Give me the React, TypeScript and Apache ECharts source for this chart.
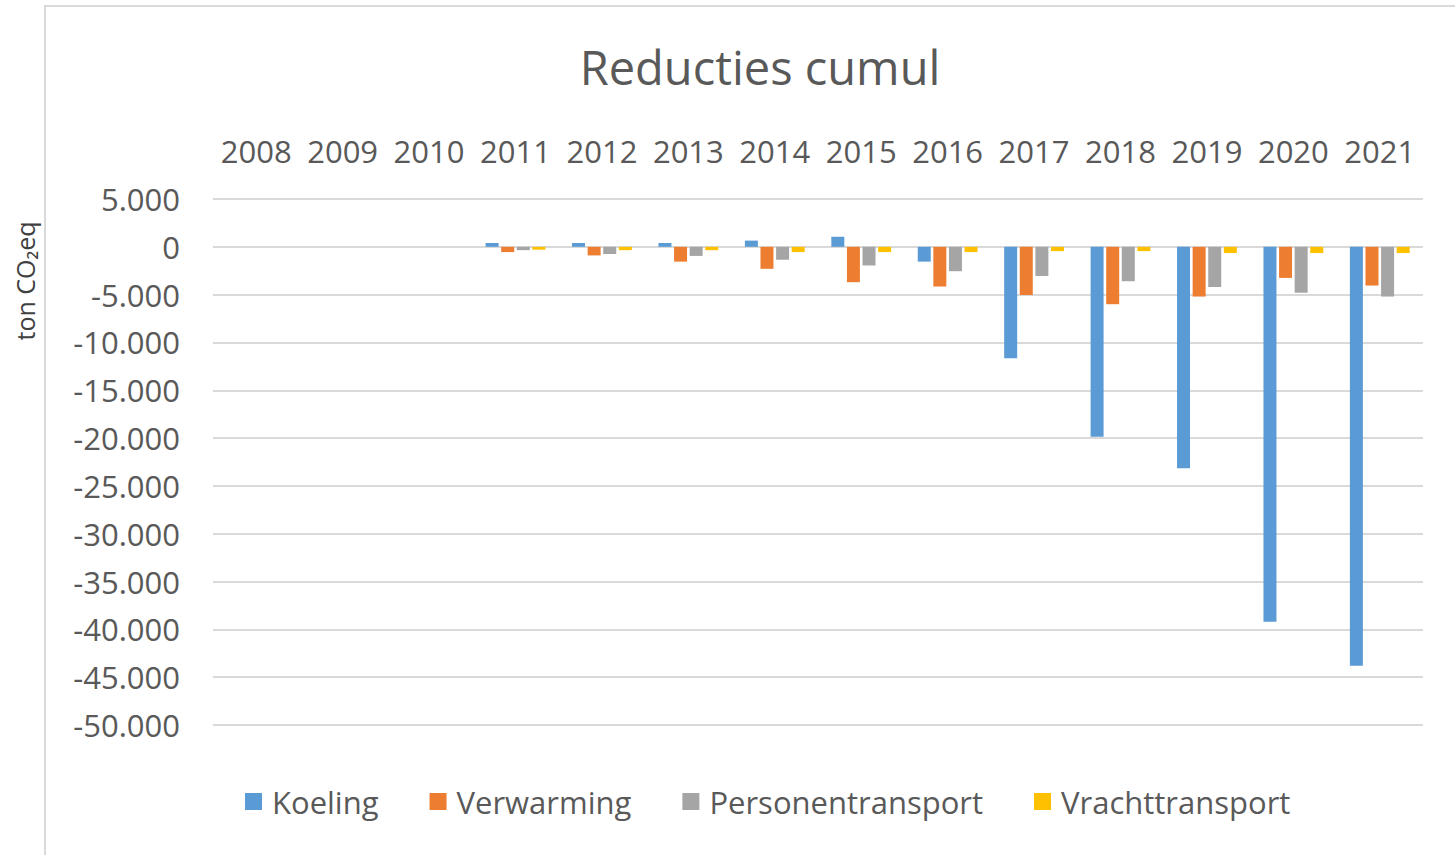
import React, { useEffect, useRef } from "react";
import * as echarts from "echarts";

const years = ["2008", "2009", "2010", "2011", "2012", "2013", "2014", "2015", "2016", "2017", "2018", "2019", "2020", "2021"];
const koeling = [null, null, null, 400, 400, 400, 650, 1050, -1550, -11650, -19850, -23150, -39200, -43800];
const verwarming = [null, null, null, -550, -900, -1550, -2300, -3700, -4150, -5050, -6000, -5200, -3250, -4050];
const personentransport = [null, null, null, -350, -750, -950, -1350, -1950, -2550, -3050, -3600, -4200, -4800, -5200];
const vrachttransport = [null, null, null, -300, -350, -350, -550, -550, -550, -450, -450, -650, -650, -650];
const seriesNames = ["Koeling", "Verwarming", "Personentransport", "Vrachttransport"];
const colors = ["#5B9BD5", "#ED7D31", "#A5A5A5", "#FFC000"];

const FONT = "'Open Sans', Lato, sans-serif";

function fmt(v: number): string {
  if (v === 0) return "0";
  const s = Math.abs(v).toString().replace(/\B(?=(\d{3})+(?!\d))/g, ".");
  return (v < 0 ? "-" : "") + s;
}

export default function App() {
  const ref = useRef<HTMLDivElement>(null);
  useEffect(() => {
    if (!ref.current) return;
    const chart = echarts.init(ref.current, null, { renderer: "svg" });
    const data = [koeling, verwarming, personentransport, vrachttransport];
    chart.setOption({
      animation: false,
      backgroundColor: "#ffffff",
      title: {
        text: "Reducties cumul",
        left: 755,
        top: 38,
        textAlign: "center",
        textStyle: { fontFamily: FONT, fontSize: 47, fontWeight: "normal", color: "#595959" },
      },
      legend: {
        top: 781,
        left: 240,
        icon: "rect",
        itemWidth: 17,
        itemHeight: 17,
        itemGap: 51,
        textStyle: { fontFamily: FONT, fontSize: 31, color: "#595959", padding: [0, 0, 0, 5] },
        data: seriesNames,
      },
      grid: { left: 213, right: 32, top: 199, bottom: 130, containLabel: false },
      xAxis: {
        type: "category",
        position: "top",
        data: years,
        axisLine: { show: false },
        axisTick: { show: false },
        axisLabel: { fontFamily: FONT, fontSize: 31, color: "#595959", margin: 33, interval: 0, hideOverlap: false },
      },
      yAxis: {
        type: "value",
        min: -50000,
        max: 5000,
        interval: 5000,
        axisLine: { show: false },
        axisTick: { show: false },
        splitLine: { lineStyle: { color: "#D9D9D9", width: 2 } },
        axisLabel: { fontFamily: FONT, fontSize: 31, color: "#595959", margin: 33, formatter: (v: number) => fmt(v) },
      },
      graphic: [
        {
          type: "rect",
          shape: { x: 45, y: 6, width: 1500, height: 900 },
          style: { fill: "none", stroke: "#D9D9D9", lineWidth: 2 },
          silent: true,
        },
        {
          type: "text",
          x: 25,
          y: 281,
          rotation: Math.PI / 2,
          style: {
            text: "ton CO₂eq",
            fontFamily: FONT,
            fontSize: 25,
            fill: "#404040",
            align: "center",
            verticalAlign: "middle",
          },
        },
      ],
      series: seriesNames.map((name, i) => ({
        name,
        type: "bar",
        data: data[i],
        barWidth: 13,
        barGap: "20%",
        itemStyle: { color: colors[i] },
      })),
    });
    return () => chart.dispose();
  }, []);
  return <div ref={ref} style={{ position: "fixed", left: 0, top: 0, width: 1455, height: 855 }} />;
}
